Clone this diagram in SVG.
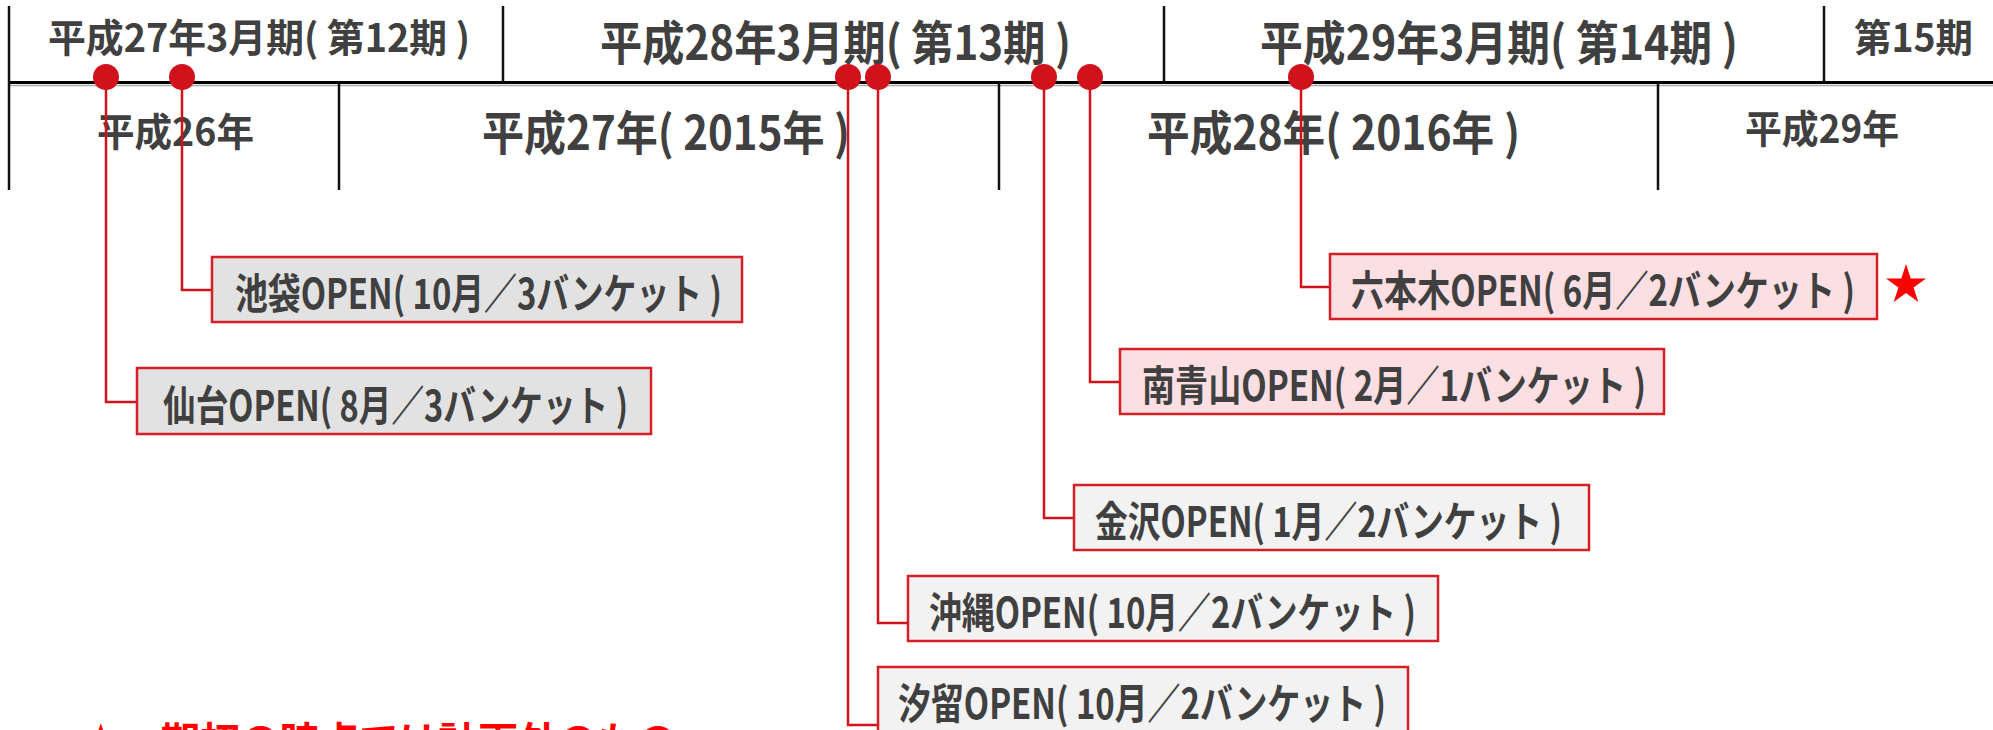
<svg xmlns="http://www.w3.org/2000/svg" width="1993" height="730" viewBox="0 0 1993 730">
<style>
.t{font-family:"Noto Sans CJK JP","Noto Sans",sans-serif;font-weight:700;fill:#404040}
.b{font-size:42px}
.box{stroke:#d41f27;stroke-width:2.5}
.g1{fill:#e2e2e2}.pk{fill:#fcdfe3}.g2{fill:#f2f2f2}
.div{stroke:#111;stroke-width:2.5}
.con{fill:none;stroke:#d0121b;stroke-width:2.5}
.dot{fill:#d0121b}
</style>
<rect width="1993" height="730" fill="#fff"/>
<g id="timeline">
<line x1="8" y1="85.5" x2="1993" y2="85.5" stroke="#a8a8a8" stroke-width="1.5"/>
<line x1="8" y1="82.5" x2="1993" y2="82.5" stroke="#000" stroke-width="3"/>
<line class="div" x1="9" y1="6" x2="9" y2="190" stroke="#555"/>
<line class="div" x1="503" y1="6" x2="503" y2="82"/>
<line class="div" x1="1164" y1="6" x2="1164" y2="82"/>
<line class="div" x1="1824" y1="6" x2="1824" y2="82"/>
<line class="div" x1="339" y1="82" x2="339" y2="190"/>
<line class="div" x1="999" y1="82" x2="999" y2="190"/>
<line class="div" x1="1658" y1="82" x2="1658" y2="190"/>
</g>
<g id="periods">
<text class="t" x="48" y="52" font-size="39" textLength="422" lengthAdjust="spacingAndGlyphs">平成27年3月期( 第12期 )</text>
<text class="t" x="600" y="60" font-size="47" textLength="471" lengthAdjust="spacingAndGlyphs">平成28年3月期( 第13期 )</text>
<text class="t" x="1260" y="60" font-size="47" textLength="478" lengthAdjust="spacingAndGlyphs">平成29年3月期( 第14期 )</text>
<text class="t" x="1854" y="52" font-size="39" textLength="119" lengthAdjust="spacingAndGlyphs">第15期</text>
</g>
<g id="years">
<text class="t" x="97" y="146" font-size="39" textLength="157" lengthAdjust="spacingAndGlyphs">平成26年</text>
<text class="t" x="482" y="150" font-size="47" textLength="368" lengthAdjust="spacingAndGlyphs">平成27年( 2015年 )</text>
<text class="t" x="1147" y="150" font-size="47" textLength="373" lengthAdjust="spacingAndGlyphs">平成28年( 2016年 )</text>
<text class="t" x="1745" y="143" font-size="39" textLength="154" lengthAdjust="spacingAndGlyphs">平成29年</text>
</g>
<g id="connectors">
<path class="con" d="M106 77V402H137"/>
<path class="con" d="M182 77V290H212"/>
<path class="con" d="M848 77V725H878"/>
<path class="con" d="M878 77V623H908"/>
<path class="con" d="M1044 77V518H1074"/>
<path class="con" d="M1090 77V382H1120"/>
<path class="con" d="M1301 77V287H1330"/>
<circle class="dot" cx="106" cy="77" r="13"/>
<circle class="dot" cx="182" cy="77" r="13"/>
<circle class="dot" cx="848" cy="77" r="13"/>
<circle class="dot" cx="878" cy="77" r="13"/>
<circle class="dot" cx="1044" cy="77" r="13"/>
<circle class="dot" cx="1090" cy="77" r="13"/>
<circle class="dot" cx="1301" cy="77" r="13"/>
</g>
<g id="ikebukuro">
<rect class="box g1" x="212" y="257" width="530" height="65"/>
<text class="t b" x="478.5" y="309" text-anchor="middle" textLength="487" lengthAdjust="spacingAndGlyphs">池袋OPEN( 10月／3バンケット )</text>
</g>
<g id="sendai">
<rect class="box g1" x="137" y="368" width="514" height="66"/>
<text class="t b" x="395.5" y="421" text-anchor="middle" textLength="465" lengthAdjust="spacingAndGlyphs">仙台OPEN( 8月／3バンケット )</text>
</g>
<g id="roppongi">
<rect class="box pk" x="1330" y="254" width="547" height="65"/>
<text class="t b" x="1603" y="306" text-anchor="middle" textLength="504" lengthAdjust="spacingAndGlyphs">六本木OPEN( 6月／2バンケット )</text>
<polygon fill="#ff0000" points="1906,264 1910.7,278.5 1926,278.5 1913.6,287.5 1918.3,302 1906,293 1893.7,302 1898.4,287.5 1886,278.5 1901.3,278.5"/>
</g>
<g id="minamiaoyama">
<rect class="box pk" x="1120" y="349" width="544" height="65"/>
<text class="t b" x="1394" y="401" text-anchor="middle" textLength="504" lengthAdjust="spacingAndGlyphs">南青山OPEN( 2月／1バンケット )</text>
</g>
<g id="kanazawa">
<rect class="box g2" x="1074" y="485" width="515" height="65"/>
<text class="t b" x="1328.5" y="537" text-anchor="middle" textLength="467" lengthAdjust="spacingAndGlyphs">金沢OPEN( 1月／2バンケット )</text>
</g>
<g id="okinawa">
<rect class="box g2" x="908" y="576" width="530" height="65"/>
<text class="t b" x="1172.5" y="628" text-anchor="middle" textLength="487" lengthAdjust="spacingAndGlyphs">沖縄OPEN( 10月／2バンケット )</text>
</g>
<g id="shiodome">
<rect class="box g2" x="878" y="667" width="530" height="66"/>
<text class="t b" x="1142" y="719" text-anchor="middle" textLength="488" lengthAdjust="spacingAndGlyphs">汐留OPEN( 10月／2バンケット )</text>
</g>
<g id="note">
<text x="81" y="756" font-size="40" font-family="'Noto Sans CJK JP',sans-serif" font-weight="700" fill="#ff0000" textLength="596" lengthAdjust="spacingAndGlyphs">★　期初の時点では計画外のもの</text>
</g>
</svg>
